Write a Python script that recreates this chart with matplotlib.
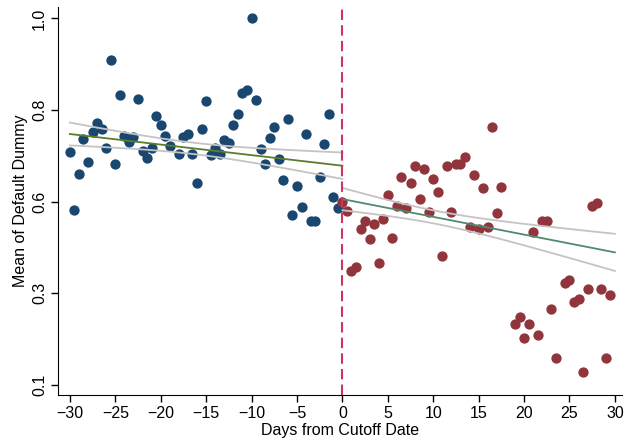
import numpy as np
import matplotlib
matplotlib.use('Agg')
import matplotlib.pyplot as plt

plt.rcParams['font.family'] = ['Liberation Sans', 'DejaVu Sans']

# binned means, half-day bins (one empty bin on each side)
days_before = [-30, -29.5, -29, -28.5, -28, -27.5, -27, -26.5, -26, -25.5,
               -25, -24.5, -24, -23.5, -23, -22.5, -22, -21.5, -21, -20.5,
               -20, -19.5, -19, -18, -17.5, -17, -16.5, -16, -15.5,
               -15, -14.5, -14, -13.5, -13, -12.5, -12, -11.5, -11, -10.5,
               -10, -9.5, -9, -8.5, -8, -7.5, -7, -6.5, -6, -5.5,
               -5, -4.5, -4, -3.5, -3, -2.5, -2, -1.5, -1, -0.5]
mean_before = [0.672, 0.529, 0.617, 0.704, 0.646, 0.720, 0.742, 0.728, 0.681, 0.897,
               0.643, 0.813, 0.712, 0.696, 0.709, 0.802, 0.674, 0.656, 0.681, 0.760,
               0.737, 0.710, 0.686, 0.668, 0.709, 0.717, 0.668, 0.595, 0.728,
               0.798, 0.664, 0.681, 0.668, 0.702, 0.693, 0.739, 0.765, 0.816, 0.825,
               1.000, 0.799, 0.678, 0.642, 0.706, 0.733, 0.654, 0.604, 0.752, 0.516,
               0.588, 0.536, 0.716, 0.502, 0.502, 0.610, 0.691, 0.766, 0.561, 0.534]

days_after = [0, 0.5, 1, 1.5, 2, 2.5, 3, 3.5, 4, 4.5,
              5, 5.5, 6, 6.5, 7, 7.5, 8, 8.5, 9, 9.5,
              10, 10.5, 11, 11.5, 12, 12.5, 13, 13.5, 14, 14.5,
              15, 15.5, 16, 16.5, 17, 17.5, 19, 19.5,
              20, 20.5, 21, 21.5, 22, 22.5, 23, 23.5, 24.5,
              25, 25.5, 26, 26.5, 27, 27.5, 28, 28.5, 29, 29.5]
mean_after = [0.549, 0.527, 0.378, 0.390, 0.483, 0.501, 0.458, 0.494, 0.400, 0.507,
              0.565, 0.460, 0.539, 0.610, 0.533, 0.596, 0.638, 0.556, 0.629, 0.524,
              0.606, 0.574, 0.417, 0.637, 0.524, 0.641, 0.642, 0.660, 0.488, 0.614,
              0.483, 0.584, 0.487, 0.732, 0.521, 0.586, 0.250, 0.266,
              0.214, 0.250, 0.476, 0.221, 0.501, 0.501, 0.285, 0.166, 0.350,
              0.357, 0.304, 0.310, 0.130, 0.334, 0.539, 0.547, 0.334, 0.166, 0.320]

# linear fits with 95% CI (from the underlying data): fitted value at the ends,
# CI half-width at its narrowest point, where that is, and how fast it widens
fit_left = [0.716, 0.638]
ci_left = {'center': -16.4, 'hmin': 0.014, 'b': 3.2e-6}
fit_right = [0.556, 0.425]
ci_right = {'center': 10.3, 'hmin': 0.016, 'b': 4.7e-6}

navy = '#1a476f'
maroon = '#90353b'

fig = plt.figure(figsize=(6.31, 4.42), dpi=100)
ax = fig.add_axes([0.092, 0.106, 0.894, 0.878])

ax.scatter(days_before, mean_before, s=55, color=navy, zorder=2, linewidths=0)
ax.scatter(days_after, mean_after, s=55, color=maroon, zorder=2, linewidths=0)


def draw_fit(x0, x1, ends, ci, color):
    xs = np.linspace(x0, x1, 100)
    yfit = ends[0] + (ends[1] - ends[0]) * (xs - x0) / (x1 - x0)
    half = np.sqrt(ci['hmin'] ** 2 + ci['b'] * (xs - ci['center']) ** 2)
    ax.plot(xs, yfit + half, color='#c4c4c4', lw=1.3, zorder=3)
    ax.plot(xs, yfit - half, color='#c4c4c4', lw=1.3, zorder=3)
    ax.plot(xs, yfit, color=color, lw=1.3, zorder=4)


draw_fit(-30, 0, fit_left, ci_left, '#5a7d2a')
draw_fit(0, 30, fit_right, ci_right, '#4f8a70')

ax.axvline(0, color='#d2335c', lw=1.5, ls=(0, (5, 2.5)), zorder=5)

ax.set_xlim(-31.3, 30.8)
ax.set_ylim(0.074, 1.028)
ax.set_xticks(range(-30, 31, 5))
yt = [0.1, 0.325, 0.55, 0.775, 1.0]
ax.set_yticks(yt)
ax.set_yticklabels(['%.1f' % v for v in yt], rotation=90, va='center')
ax.tick_params(labelsize=11.5, length=5, width=1, direction='out', pad=3)
ax.spines['top'].set_visible(False)
ax.spines['right'].set_visible(False)
ax.set_xlabel('Days from Cutoff Date', fontsize=11.5, labelpad=1)
ax.set_ylabel('Mean of Default Dummy', fontsize=11.5, labelpad=3)

fig.savefig('out.png', dpi=100)
